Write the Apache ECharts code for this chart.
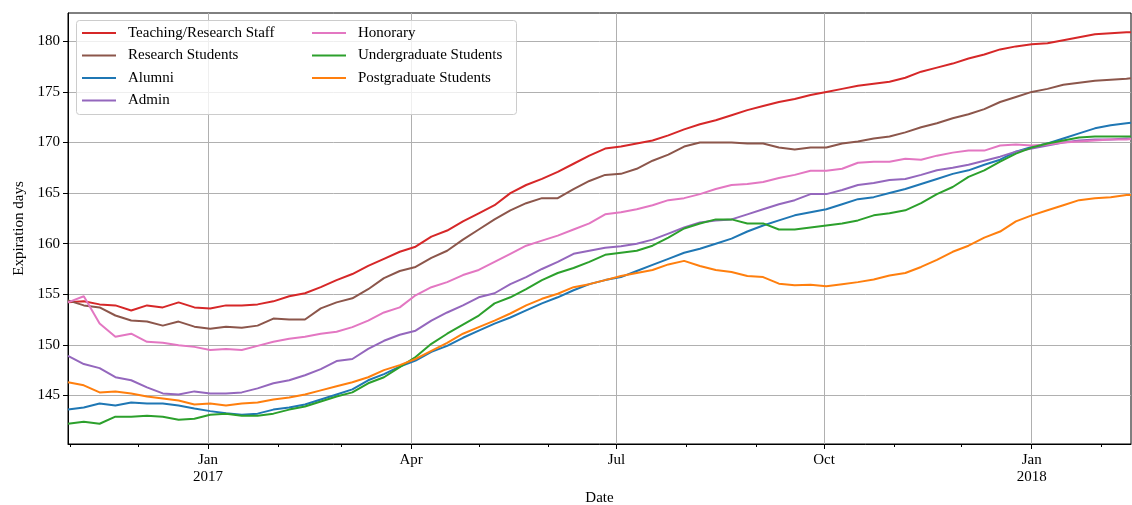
<!DOCTYPE html>
<html>
<head>
<meta charset="utf-8">
<script src="https://cdn.jsdelivr.net/npm/echarts@6/dist/echarts.min.js"></script>
<style>
  html, body { margin: 0; padding: 0; background: #fff; }
  #chart { width: 1132px; height: 505px; }
</style>
</head>
<body>
<div id="chart"></div>
<script>
// Weekly sample dates (plus the final day of the window)
const dates = [
  '2016-10-31','2016-11-07','2016-11-14','2016-11-21','2016-11-28','2016-12-05','2016-12-12','2016-12-19','2016-12-26',
  '2017-01-02','2017-01-09','2017-01-16','2017-01-23','2017-01-30','2017-02-06','2017-02-13','2017-02-20','2017-02-27',
  '2017-03-06','2017-03-13','2017-03-20','2017-03-27','2017-04-03','2017-04-10','2017-04-17','2017-04-24','2017-05-01',
  '2017-05-08','2017-05-15','2017-05-22','2017-05-29','2017-06-05','2017-06-12','2017-06-19','2017-06-26','2017-07-03',
  '2017-07-10','2017-07-17','2017-07-24','2017-07-31','2017-08-07','2017-08-14','2017-08-21','2017-08-28','2017-09-04',
  '2017-09-11','2017-09-18','2017-09-25','2017-10-02','2017-10-09','2017-10-16','2017-10-23','2017-10-30','2017-11-06',
  '2017-11-13','2017-11-20','2017-11-27','2017-12-04','2017-12-11','2017-12-18','2017-12-25','2018-01-01','2018-01-08',
  '2018-01-15','2018-01-22','2018-01-29','2018-02-05','2018-02-12','2018-02-14'
];

const teachingStaff = [
  154.2,154.3,154.0,153.9,153.4,153.9,153.7,154.2,153.7,153.6,153.9,153.9,154.0,154.3,154.8,155.1,155.7,156.4,
  157.0,157.8,158.5,159.2,159.7,160.7,161.3,162.2,163.0,163.8,165.0,165.8,166.4,167.1,167.9,168.7,169.4,169.6,
  169.9,170.2,170.7,171.3,171.8,172.2,172.7,173.2,173.6,174.0,174.3,174.7,175.0,175.3,175.6,175.8,176.0,176.4,
  177.0,177.4,177.8,178.3,178.7,179.2,179.5,179.7,179.8,180.1,180.4,180.7,180.8,180.9,180.9
];
const researchStudents = [
  154.4,153.9,153.7,152.9,152.4,152.3,151.9,152.3,151.8,151.6,151.8,151.7,151.9,152.6,152.5,152.5,153.6,154.2,
  154.6,155.5,156.6,157.3,157.7,158.6,159.3,160.4,161.4,162.4,163.3,164.0,164.5,164.5,165.4,166.2,166.8,166.9,
  167.4,168.2,168.8,169.6,170.0,170.0,170.0,169.9,169.9,169.5,169.3,169.5,169.5,169.9,170.1,170.4,170.6,171.0,
  171.5,171.9,172.4,172.8,173.3,174.0,174.5,175.0,175.3,175.7,175.9,176.1,176.2,176.3,176.35
];
const alumni = [
  143.6,143.8,144.2,144.0,144.3,144.2,144.2,144.0,143.7,143.45,143.25,143.1,143.2,143.6,143.8,144.1,144.6,145.1,
  145.6,146.5,147.1,147.85,148.45,149.3,149.9,150.7,151.4,152.1,152.7,153.4,154.1,154.7,155.4,156.0,156.4,156.7,
  157.3,157.9,158.5,159.1,159.5,160.0,160.5,161.2,161.8,162.3,162.8,163.1,163.4,163.9,164.4,164.6,165.0,165.4,
  165.9,166.4,166.9,167.25,167.8,168.3,169.1,169.55,169.9,170.4,170.9,171.4,171.7,171.9,171.95
];
const admin = [
  148.9,148.1,147.7,146.8,146.5,145.8,145.2,145.1,145.4,145.2,145.2,145.3,145.7,146.2,146.5,147.0,147.6,148.4,
  148.6,149.6,150.4,151.0,151.4,152.4,153.2,153.9,154.7,155.1,156.0,156.7,157.5,158.2,159.0,159.3,159.6,159.75,
  160.0,160.4,161.0,161.6,162.1,162.3,162.4,162.9,163.4,163.9,164.3,164.9,164.9,165.3,165.8,166.0,166.3,166.4,
  166.8,167.25,167.5,167.8,168.2,168.6,169.1,169.4,169.7,170.0,170.2,170.3,170.3,170.4,170.4
];
const honorary = [
  154.2,154.8,152.1,150.8,151.1,150.3,150.2,149.95,149.8,149.5,149.6,149.5,149.9,150.3,150.6,150.8,151.1,151.3,
  151.75,152.4,153.2,153.7,154.9,155.7,156.2,156.9,157.4,158.2,159.0,159.8,160.3,160.8,161.4,162.0,162.9,163.1,
  163.4,163.8,164.3,164.5,164.9,165.4,165.8,165.9,166.1,166.5,166.8,167.2,167.2,167.4,168.0,168.1,168.1,168.4,
  168.3,168.7,169.0,169.2,169.2,169.7,169.8,169.7,169.8,170.0,170.1,170.2,170.3,170.3,170.35
];
const undergraduate = [
  142.2,142.4,142.2,142.9,142.9,143.0,142.9,142.6,142.7,143.1,143.2,143.0,143.0,143.2,143.6,143.9,144.4,144.9,
  145.3,146.2,146.8,147.8,148.8,150.1,151.1,152.0,152.9,154.1,154.7,155.5,156.4,157.1,157.6,158.2,158.9,159.1,
  159.3,159.8,160.6,161.5,162.0,162.4,162.4,162.0,162.0,161.4,161.4,161.6,161.8,162.0,162.3,162.8,163.0,163.3,
  164.0,164.9,165.6,166.6,167.25,168.1,168.9,169.5,169.9,170.2,170.5,170.6,170.6,170.6,170.6
];
const postgraduate = [
  146.3,146.0,145.3,145.4,145.2,144.9,144.7,144.5,144.1,144.2,144.0,144.2,144.3,144.6,144.8,145.1,145.5,145.9,
  146.3,146.8,147.5,148.0,148.6,149.4,150.2,151.1,151.75,152.4,153.1,153.9,154.55,155.05,155.7,156.0,156.4,156.8,
  157.1,157.4,157.95,158.3,157.8,157.4,157.2,156.8,156.7,156.05,155.9,155.95,155.8,156.0,156.2,156.45,156.85,157.1,
  157.7,158.4,159.2,159.8,160.6,161.2,162.2,162.8,163.3,163.8,164.3,164.5,164.6,164.8,164.8
];

// Axis ticks
const majorTickDates = ['2017-01-01','2017-04-01','2017-07-01','2017-10-01','2018-01-01'];
const majorTickLabels = ['Jan\n2017','Apr','Jul','Oct','Jan\n2018'];
const minorTickDates = ['2016-11-01','2016-12-01','2017-02-01','2017-03-01','2017-05-01','2017-06-01',
  '2017-08-01','2017-09-01','2017-11-01','2017-12-01','2018-02-01'];
const yTicks = [145, 150, 155, 160, 165, 170, 175, 180];

const seriesNames = ['Teaching/Research Staff','Research Students','Alumni','Admin',
  'Honorary','Undergraduate Students','Postgraduate Students'];
const seriesValues = [teachingStaff, researchStudents, alumni, admin, honorary, undergraduate, postgraduate];
const seriesColors = ['#d62728','#8c564b','#1f77b4','#9467bd','#e377c2','#2ca02c','#ff7f0e'];

const ts = s => { const p = s.split('-').map(Number); return Date.UTC(p[0], p[1] - 1, p[2]); };
const dateTs = dates.map(ts);
const majorTs = majorTickDates.map(ts);
const minorTs = minorTickDates.map(ts);
const labelFor = {};
majorTs.forEach((t, i) => { labelFor[t] = majorTickLabels[i]; });

const FONT = "'Liberation Serif', 'DejaVu Serif', serif";
const xMin = ts('2016-10-31');
const xMax = ts('2018-02-14');

const chart = echarts.init(document.getElementById('chart'), null, { renderer: 'canvas' });

const legendBase = {
  orient: 'vertical', top: 25.5, padding: 0, icon: 'rect',
  itemWidth: 34, itemHeight: 2, itemGap: 7.5, selectedMode: false, z: 20,
  textStyle: { color: '#000', fontFamily: FONT, fontSize: 15, lineHeight: 15, padding: [0, 0, 0, 7] }
};

const option = {
  animation: false,
  backgroundColor: '#fff',
  textStyle: { fontFamily: FONT },
  grid: {
    left: 68, right: 1, top: 13, bottom: 61, outerBoundsMode: 'none', containLabel: false,
    show: true, borderColor: '#000', borderWidth: 1, backgroundColor: 'transparent'
  },
  xAxis: [
    {
      type: 'value', min: xMin, max: xMax,
      axisLine: { show: true, onZero: false, lineStyle: { color: '#000', width: 1 } },
      axisTick: { show: true, customValues: majorTs, length: 5, lineStyle: { color: '#000', width: 1 } },
      axisLabel: {
        customValues: majorTs, color: '#000', fontFamily: FONT, fontSize: 15, lineHeight: 17, margin: 8,
        formatter: v => labelFor[v] || ''
      },
      splitLine: { show: true, lineStyle: { color: '#b0b0b0', width: 1 } },
      name: 'Date', nameLocation: 'middle', nameGap: 46,
      nameTextStyle: { color: '#000', fontFamily: FONT, fontSize: 15 }
    },
    {
      type: 'value', min: xMin, max: xMax, position: 'bottom',
      axisLine: { show: false, onZero: false },
      axisTick: { show: true, customValues: minorTs, length: 3, lineStyle: { color: '#000', width: 1 } },
      axisLabel: { show: false, customValues: minorTs },
      splitLine: { show: false }
    }
  ],
  yAxis: {
    type: 'value', min: 140.2, max: 182.8,
    axisLine: { show: true, lineStyle: { color: '#000', width: 1 } },
    axisTick: { show: true, customValues: yTicks, length: 5, lineStyle: { color: '#000', width: 1 } },
    axisLabel: { customValues: yTicks, color: '#000', fontFamily: FONT, fontSize: 15, margin: 8 },
    splitLine: { show: true, lineStyle: { color: '#b0b0b0', width: 1 } },
    name: 'Expiration days', nameLocation: 'middle', nameGap: 41,
    nameTextStyle: { color: '#000', fontFamily: FONT, fontSize: 15 }
  },
  legend: [
    Object.assign({}, legendBase, { data: seriesNames.slice(0, 4), left: 82 }),
    Object.assign({}, legendBase, { data: seriesNames.slice(4), left: 312 })
  ],
  graphic: [{
    type: 'rect', z: 10, silent: true,
    shape: { x: 76.5, y: 20.5, width: 440, height: 94, r: 3 },
    style: { fill: 'rgba(255,255,255,0.8)', stroke: '#cccccc', lineWidth: 1 }
  }],
  series: seriesNames.map((name, k) => ({
    name, type: 'line', xAxisIndex: 0, symbol: 'none', showSymbol: false,
    color: seriesColors[k],
    lineStyle: { color: seriesColors[k], width: 2 },
    data: dateTs.map((t, i) => [t, seriesValues[k][i]])
  }))
};

chart.setOption(option);
</script>
</body>
</html>
